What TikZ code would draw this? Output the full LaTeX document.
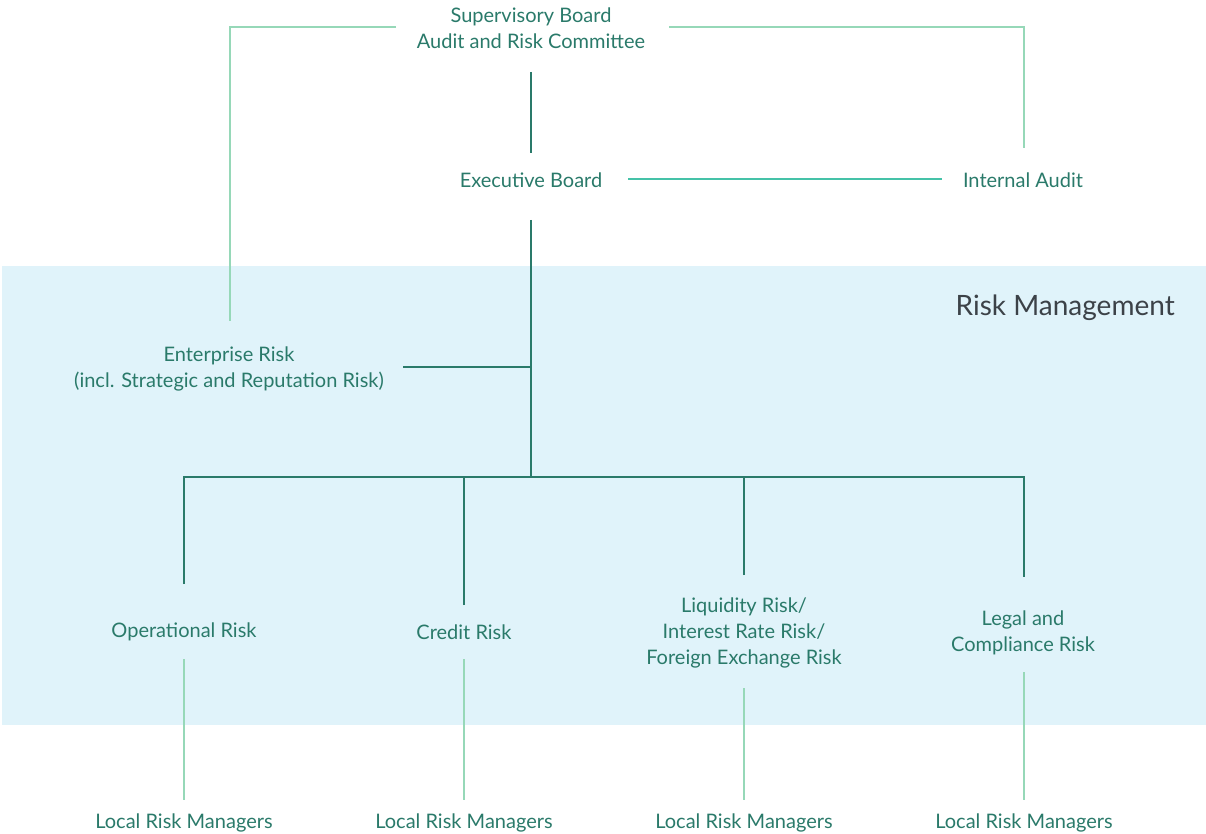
\documentclass[tikz,border=0pt]{standalone}
\usepackage{fontspec}
\setmainfont{Lato}
\usetikzlibrary{calc}

\definecolor{boardgreen}{HTML}{2A7A6A}
\definecolor{palegreen}{HTML}{96D8B8}
\definecolor{tealline}{HTML}{45C2A8}
\definecolor{riskblue}{HTML}{E0F3FA}
\definecolor{headgray}{HTML}{3C4248}

\tikzset{
  unit/.style={inner sep=0pt, align=center, text=boardgreen,
               font=\fontsize{15}{19.8}\selectfont},
  mainline/.style={draw=boardgreen, line width=1pt},
  paleline/.style={draw=palegreen, line width=1.3pt},
  auditline/.style={draw=tealline, line width=1.3pt}
}

\begin{document}
\begin{tikzpicture}[x=0.75pt, y=0.75pt]
\useasboundingbox (0,0) rectangle (1206,833);

% risk management area
\fill[riskblue] (2,108) rectangle (1206,567);
\node[anchor=east, inner sep=0pt, text=headgray,
      font=\fontsize{21}{24}\selectfont] (rmlabel) at (1175,525) {Risk Management};

% boards
\node[unit] (sb) at (531,805) {Supervisory Board\\Audit and Risk Committee};
\node[unit] (exec) at (531,653) {Executive Board};
\node[unit] (audit) at (1023,653) {Internal Audit};
\node[unit] (ent) at (229,464) {Enterprise Risk\\(incl. Strategic and Reputation Risk)};

% risk units
\node[unit] (op) at (184,201) {Operational Risk};
\node[unit] (cr) at (464,201) {Credit Risk};
\node[unit] (liq) at (744,200) {Liquidity Risk/\\Interest Rate Risk/\\Foreign Exchange Risk};
\node[unit] (leg) at (1023,200) {Legal and\\Compliance Risk};

% local managers
\node[unit] (loc1) at (184,10) {Local Risk Managers};
\node[unit] (loc2) at (464,10) {Local Risk Managers};
\node[unit] (loc3) at (744,10) {Local Risk Managers};
\node[unit] (loc4) at (1024,10) {Local Risk Managers};

\coordinate (hub) at (531,356);

% supervisory links
\draw[paleline] ($(sb.center)+(-135,1)$) -| ($(ent.center)+(1,48)$);
\draw[paleline] ($(sb.center)+(138,1)$) -| ($(audit.center)+(1,32)$);
\draw[mainline] ($(sb.center)+(0,-44)$) -- ($(exec.center)+(0,27)$);
\draw[auditline] ($(exec.center)+(97,1)$) -- ($(audit.center)+(-81,1)$);

% executive board down to the units
\draw[mainline] ($(exec.center)+(0,-40)$) -- (hub);
\draw[mainline] ($(ent.center)+(174,2)$) -- ($(ent.center -| hub)+(0,2)$);
\draw[mainline] ($(op.center)+(0,48)$) |- (hub) -| ($(leg.center)+(1,56)$);
\draw[mainline] ($(cr.center)+(0,27)$) -- (cr.center |- hub);
\draw[mainline] ($(liq.center)+(0,58)$) -- (liq.center |- hub);

% units down to local managers
\draw[paleline] ($(op.center)+(0,-27)$) -- ($(loc1.center)+(0,23)$);
\draw[paleline] ($(cr.center)+(0,-27)$) -- ($(loc2.center)+(0,23)$);
\draw[paleline] ($(liq.center)+(0,-55)$) -- ($(loc3.center)+(0,23)$);
\draw[paleline] ($(leg.center)+(1,-39)$) -- ($(loc4.center)+(0,23)$);
\end{tikzpicture}
\end{document}
